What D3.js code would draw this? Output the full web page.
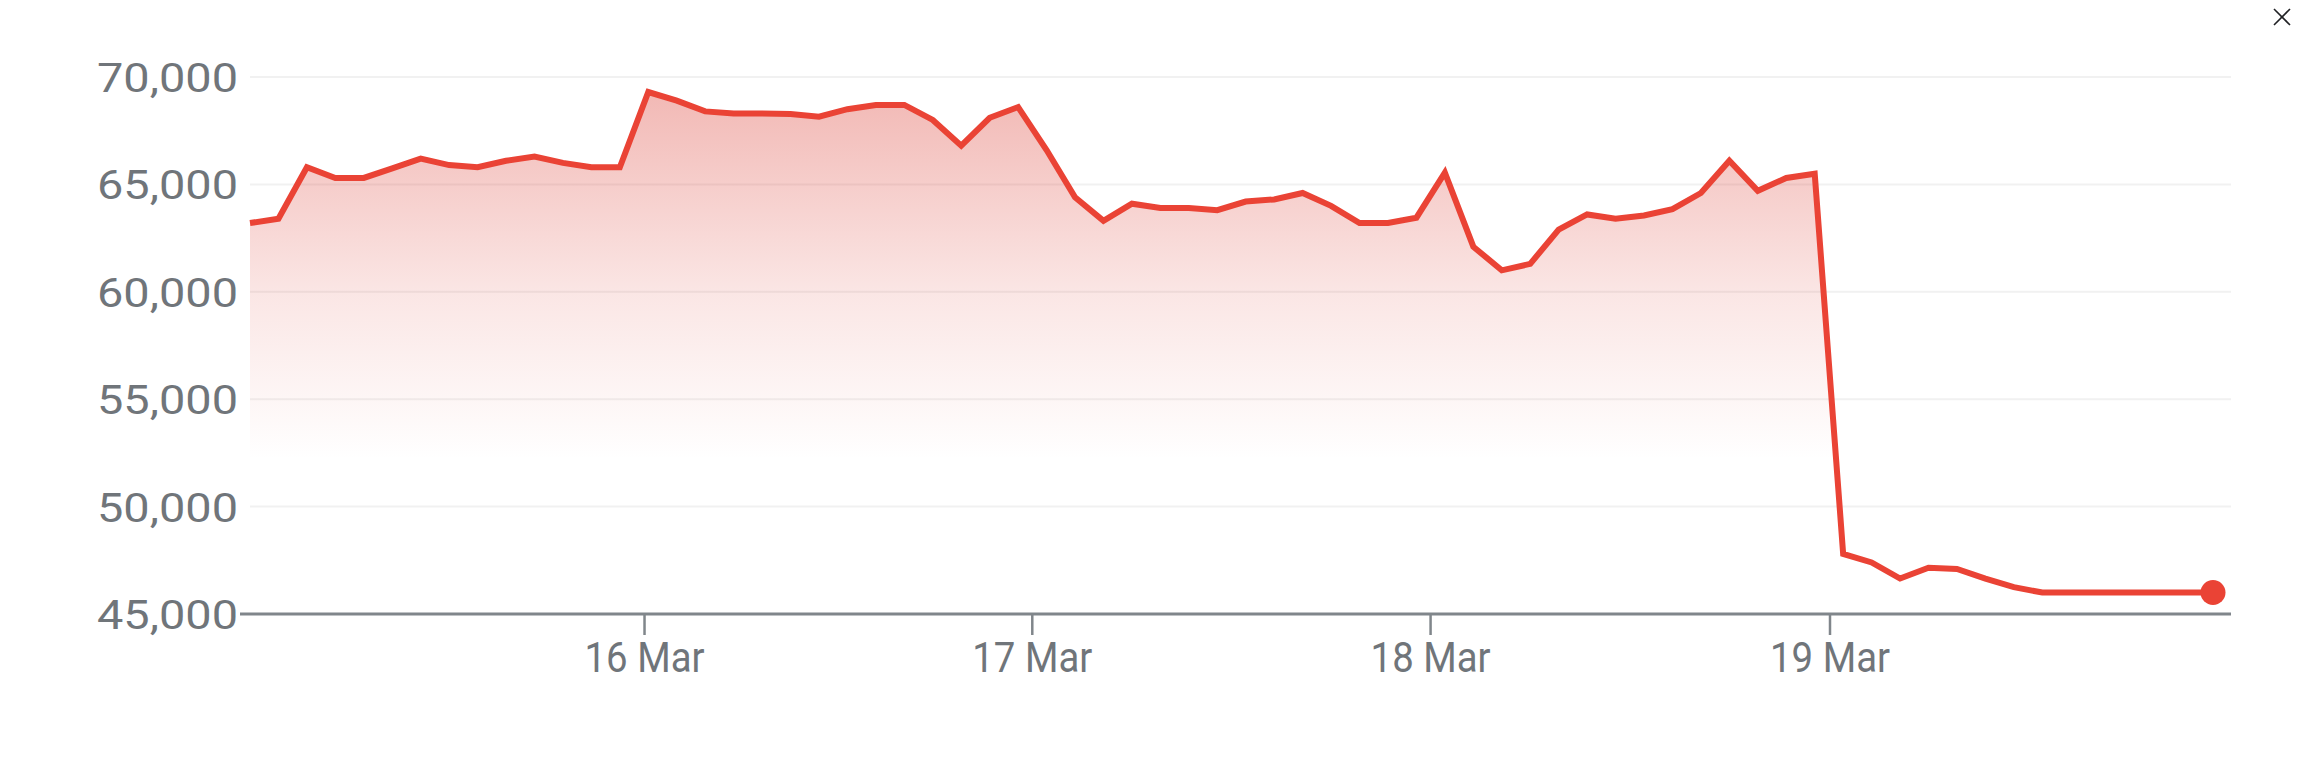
<!DOCTYPE html>
<html>
<head>
<meta charset="utf-8">
<script src="https://cdn.jsdelivr.net/npm/d3@7"></script>
<style>
  html, body { margin: 0; padding: 0; background: #ffffff; }
  svg { display: block; }
</style>
</head>
<body>
<script>
// ---- data ----
const prices = [
  63200, 63400, 65800, 65300, 65300, 65750, 66200, 65900, 65800, 66100,
  66300, 66000, 65800, 65800, 69300, 68900, 68400, 68300, 68300, 68280,
  68150, 68500, 68700, 68700, 68000, 66800, 68100, 68600, 66600, 64400,
  63300, 64100, 63900, 63900, 63800, 64200, 64300, 64600, 64000, 63200,
  63200, 63450, 65550, 62100, 61000, 61300, 62900, 63600, 63400, 63550,
  63850, 64600, 66100, 64700, 65300, 65500, 47800, 47400, 46650, 47150,
  47100, 46650, 46250, 46000, 46000, 46000, 46000, 46000, 46000, 46000
];
const dayLabels = ["16 Mar", "17 Mar", "18 Mar", "19 Mar"];
const dayStartIndex = [13.85, 27.48, 41.48, 55.52];   // where each day begins along the series
const yTickValues = [45000, 50000, 55000, 60000, 65000, 70000];
const fadeValue = 52200;   // level where the area tint has fully faded

// ---- layout ----
const W = 2301, H = 760;
const plotLeft = 250, plotLastX = 2213, gridRight = 2231, axisLeft = 240;
const plotTop = 77, plotBottom = 614;
const lineColor = "#ea4335";
const textColor = "#70757a";

const svg = d3.select("body").append("svg")
  .attr("width", W).attr("height", H)
  .attr("viewBox", `0 0 ${W} ${H}`);

const x = d3.scaleLinear().domain([0, prices.length - 1]).range([plotLeft, plotLastX]);
const y = d3.scaleLinear().domain([45000, 70000]).range([plotBottom, plotTop]);

// gradient for area
const defs = svg.append("defs");
const grad = defs.append("linearGradient")
  .attr("id", "fillGrad")
  .attr("gradientUnits", "userSpaceOnUse")
  .attr("x1", 0).attr("x2", 0)
  .attr("y1", y(d3.max(prices)))
  .attr("y2", y(fadeValue));
grad.append("stop").attr("offset", 0).attr("stop-color", "#d93025").attr("stop-opacity", 0.34);
grad.append("stop").attr("offset", 0.55).attr("stop-color", "#d93025").attr("stop-opacity", 0.12);
grad.append("stop").attr("offset", 1).attr("stop-color", "#d93025").attr("stop-opacity", 0);

// gridlines (except baseline)
svg.append("g")
  .selectAll("line")
  .data(yTickValues.filter(v => v !== y.domain()[0]))
  .join("line")
  .attr("x1", plotLeft).attr("x2", gridRight)
  .attr("y1", d => y(d)).attr("y2", d => y(d))
  .attr("stroke", "#f1f1f1")
  .attr("stroke-width", 2);

// area
const area = d3.area()
  .x((d, i) => x(i))
  .y0(y(y.domain()[0]))
  .y1(d => y(d));
svg.append("path")
  .datum(prices)
  .attr("d", area)
  .attr("fill", "url(#fillGrad)");

// y axis labels
const yAxis = d3.axisLeft(y)
  .tickValues(yTickValues)
  .tickFormat(d3.format(","))
  .tickSize(0)
  .tickPadding(0);
const gy = svg.append("g")
  .attr("transform", `translate(${axisLeft - 2},0)`)
  .call(yAxis);
gy.select(".domain").remove();
gy.selectAll("text")
  .attr("fill", textColor)
  .attr("font-family", "Roboto, 'Noto Sans', sans-serif")
  .attr("font-size", 40)
  .attr("dy", "0.36em")
  .attr("textLength", 141)
  .attr("lengthAdjust", "spacingAndGlyphs");

// baseline
svg.append("line")
  .attr("x1", axisLeft).attr("x2", gridRight)
  .attr("y1", y(y.domain()[0])).attr("y2", y(y.domain()[0]))
  .attr("stroke", "#80868b")
  .attr("stroke-width", 3);

// x axis
const xAxis = d3.axisBottom(x)
  .tickValues(dayStartIndex)
  .tickFormat((d, i) => dayLabels[i])
  .tickSize(21)
  .tickSizeOuter(0)
  .tickPadding(7);
const gx = svg.append("g")
  .attr("transform", `translate(0,${y(y.domain()[0])})`)
  .call(xAxis);
gx.select(".domain").remove();
gx.selectAll(".tick line").attr("stroke", "#80868b").attr("stroke-width", 2.5);
gx.selectAll("text")
  .attr("fill", textColor)
  .attr("font-family", "Roboto, 'Noto Sans', sans-serif")
  .attr("font-size", 42)
  .attr("dy", "0.71em")
  .attr("textLength", 120)
  .attr("lengthAdjust", "spacingAndGlyphs");

// line
const line = d3.line()
  .x((d, i) => x(i))
  .y(d => y(d));
svg.append("path")
  .datum(prices)
  .attr("d", line)
  .attr("fill", "none")
  .attr("stroke", lineColor)
  .attr("stroke-width", 6)
  .attr("stroke-linejoin", "miter");

// end dot
const last = prices.length - 1;
svg.append("circle")
  .attr("cx", x(last))
  .attr("cy", y(prices[last]))
  .attr("r", 12.5)
  .attr("fill", lineColor);

// close icon (top right)
const close = svg.append("g").attr("transform", "translate(2282,17)")
  .attr("stroke", "#202124").attr("stroke-width", 1.6);
close.append("line").attr("x1", -8).attr("y1", -8).attr("x2", 8).attr("y2", 8);
close.append("line").attr("x1", 8).attr("y1", -8).attr("x2", -8).attr("y2", 8);
</script>
</body>
</html>
